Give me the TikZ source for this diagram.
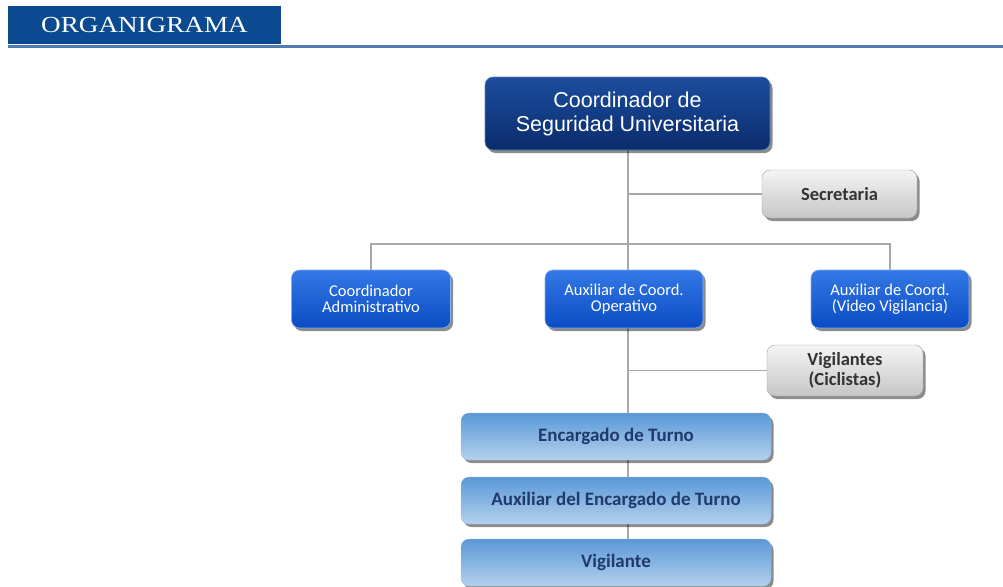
\documentclass[tikz,border=0pt]{standalone}
\usepackage{fontspec}
\setmainfont{Liberation Serif}
\newfontfamily\titlef[FakeStretch=1.18]{Liberation Serif}
\newfontfamily\arialf{Liberation Sans}
\newfontfamily\calf{Carlito}
\usetikzlibrary{shadows,backgrounds}
\definecolor{titleblue}{HTML}{0B4A91}
\definecolor{rulecol}{HTML}{4F7BB0}
\definecolor{navytop}{HTML}{1C4D9E}
\definecolor{navybot}{HTML}{0A2C6C}
\definecolor{bluetop}{HTML}{3478E6}
\definecolor{bluebot}{HTML}{0B4CC4}
\definecolor{greytop}{HTML}{F4F4F4}
\definecolor{greybot}{HTML}{C6C6C6}
\definecolor{lighttop}{HTML}{5A98D6}
\definecolor{lightbot}{HTML}{B4D1EE}
\definecolor{textnavy}{HTML}{1F3A6E}
\definecolor{linecol}{HTML}{A8A8A8}
\tikzset{
  box/.style={rounded corners=8pt, align=center, inner sep=0pt,
    drop shadow={shadow xshift=2.5pt, shadow yshift=-3pt, fill=black, opacity=0.45}},
  navybox/.style={box, top color=navytop, bottom color=navybot, draw=navytop!70!white, line width=0.6pt,
    text=white, font=\arialf\fontsize{21.5}{24}\selectfont},
  bluebox/.style={box, top color=bluetop, bottom color=bluebot, draw=bluetop!60!white, line width=0.6pt,
    text=white, font=\calf\fontsize{16.5}{16}\selectfont},
  greybox/.style={box, top color=greytop, bottom color=greybot, draw=greybot!80!black, line width=0.4pt,
    text=black!80, font=\calf\bfseries\fontsize{18.5}{20}\selectfont},
  lightbox/.style={box, top color=lighttop, bottom color=lightbot, draw=lighttop!60!white, line width=0.4pt,
    text=textnavy, font=\calf\bfseries\fontsize{19}{20}\selectfont,
    minimum width=310pt, minimum height=47pt},
  conn/.style={draw=linecol, line width=1.8pt},
}
\begin{document}
\begin{tikzpicture}[x=1pt,y=-1pt]
\useasboundingbox (0,0) rectangle (1003,586);
% header
\node[fill=titleblue, minimum width=273pt, minimum height=38pt, inner sep=0pt, text=white,
  font=\titlef\fontsize{23}{26}\selectfont] (title) at (144.5,25) {ORGANIGRAMA};
\draw[rulecol, line width=3pt] (8,47) coordinate (r1) -- (1003,47) coordinate (r2);
% nodes
\node[navybox, minimum width=285pt, minimum height=73pt] (top) at (627.5,113.5) {Coordinador de\\Seguridad Universitaria};
\node[greybox, minimum width=155pt, minimum height=48pt] (sec) at (839.5,194) {Secretaria};
\node[bluebox, minimum width=159pt, minimum height=58pt] (ca) at (371,299) {Coordinador\\Administrativo};
\node[bluebox, minimum width=158pt, minimum height=58pt] (ao) at (624,299) {Auxiliar de Coord.\\Operativo};
\node[bluebox, minimum width=158pt, minimum height=58pt] (av) at (890,299) {Auxiliar de Coord.\\(Video Vigilancia)};
\node[greybox, minimum width=156pt, minimum height=51pt] (vig) at (845,370.5) {Vigilantes\\(Ciclistas)};
\node[lightbox] (et) at (616,436.5) {Encargado de Turno};
\node[lightbox] (ae) at (616,500.5) {Auxiliar del Encargado de Turno};
\node[lightbox] (v) at (616,562.5) {Vigilante};
\coordinate (spine) at (628,150);
\coordinate (bar) at (628,244);
\begin{scope}[on background layer]
\fill[white] (0,0) rectangle (1003,586);
\draw[conn] (spine) -- (spine |- v.north);
\draw[conn] (spine |- sec.west) -- (sec.west);
\draw[conn] (ca.north) |- (bar) -| (av.north);
\draw[conn] (spine |- vig.west) -- (vig.west);
\end{scope}
\end{tikzpicture}
\end{document}
